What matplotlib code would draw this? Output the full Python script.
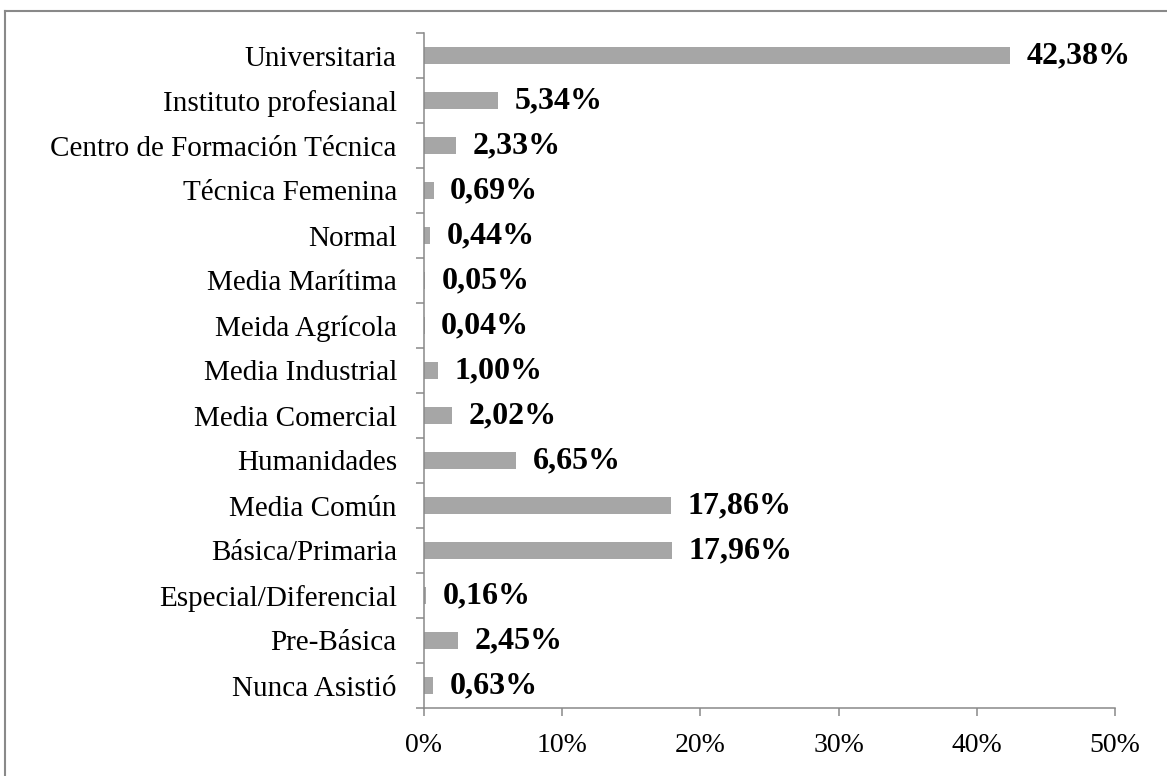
import matplotlib
matplotlib.use("Agg")
import matplotlib.pyplot as plt
from matplotlib.lines import Line2D
from matplotlib.ticker import FixedLocator, FuncFormatter
import numpy as np

categories = ["Universitaria", "Instituto profesianal", "Centro de Formación Técnica",
              "Técnica Femenina", "Normal", "Media Marítima", "Meida Agrícola",
              "Media Industrial", "Media Comercial", "Humanidades", "Media Común",
              "Básica/Primaria", "Especial/Diferencial", "Pre-Básica", "Nunca Asistió"]
values = [42.38, 5.34, 2.33, 0.69, 0.44, 0.05, 0.04, 1.00, 2.02, 6.65, 17.86,
          17.96, 0.16, 2.45, 0.63]
xticks = [0, 10, 20, 30, 40, 50]

W, H, DPI = 1167, 776, 100
plt.rcParams['font.family'] = ['Liberation Serif', 'DejaVu Serif']
fig = plt.figure(figsize=(W / DPI, H / DPI), dpi=DPI)
ax = fig.add_axes([424 / W, 1 - 708 / H, (1115 - 424) / W, (708 - 33) / H])

gray = "#898989"
y = np.arange(len(categories))
ax.barh(y, values, height=0.38, color="#A6A6A6", zorder=2)

for yi, v in zip(y, values):
    ax.annotate(f"{v:.2f}%".replace(".", ","), xy=(v, yi), xytext=(12, 0),
                textcoords="offset points", ha="left", va="center",
                fontsize=23, fontweight="bold", color="black")

ax.set_xlim(0, 50)
ax.set_ylim(len(categories) - 0.5, -0.5)
ax.set_yticks(y)
ax.set_yticklabels(categories, fontsize=21)
ax.yaxis.set_minor_locator(FixedLocator(np.arange(-0.5, len(categories), 1.0)))
ax.tick_params(axis="y", which="major", length=0, pad=19.5)
ax.tick_params(axis="y", which="minor", length=5.5, width=1.1, color=gray, direction="out")
ax.set_xticks(xticks)
ax.xaxis.set_major_formatter(FuncFormatter(lambda v, p: f"{int(v)}%"))
ax.tick_params(axis="x", length=5.5, width=1.1, color=gray, labelsize=20, pad=12.5)

for side in ["top", "right"]:
    ax.spines[side].set_visible(False)
for side in ["left", "bottom"]:
    ax.spines[side].set_color(gray)
    ax.spines[side].set_linewidth(1.1)

# outer chart border (top and left visible; right/bottom cropped)
fig.add_artist(Line2D([5 / W, 1.01], [1 - 11 / H, 1 - 11 / H], transform=fig.transFigure,
                      color=gray, lw=1.5))
fig.add_artist(Line2D([5 / W, 5 / W], [-0.01, 1 - 11 / H], transform=fig.transFigure,
                      color=gray, lw=1.5))

fig.savefig("out.png", dpi=DPI)
